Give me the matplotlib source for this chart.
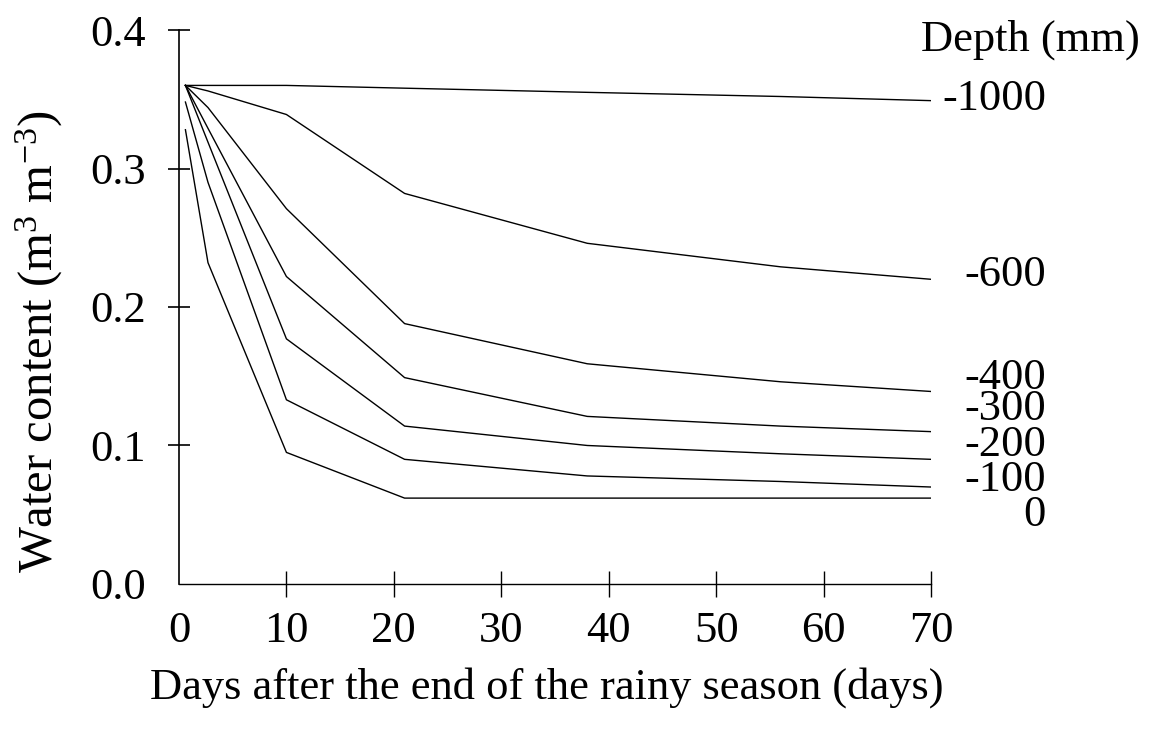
import matplotlib
matplotlib.use("Agg")
import matplotlib.pyplot as plt

plt.rcParams['font.family'] = ['Liberation Serif', 'DejaVu Serif']
plt.rcParams['mathtext.fontset'] = 'custom'
plt.rcParams['mathtext.rm'] = 'Liberation Serif'
plt.rcParams['mathtext.it'] = 'Liberation Serif:italic'

# Data
days = [0.6, 2.7, 10, 21, 38, 56, 70]
depth_labels = ["-1000", "-600", "-400", "-300", "-200", "-100", "0"]
water = {
    "-1000": [0.360, 0.360, 0.360, 0.358, 0.355, 0.352, 0.349],
    "-600": [0.360, 0.356, 0.339, 0.282, 0.246, 0.229, 0.220],
    "-400": [0.360, 0.344, 0.271, 0.188, 0.159, 0.146, 0.139],
    "-300": [0.360, 0.329, 0.222, 0.149, 0.121, 0.114, 0.110],
    "-200": [0.360, 0.319, 0.177, 0.114, 0.100, 0.094, 0.090],
    "-100": [0.348, 0.290, 0.133, 0.090, 0.078, 0.074, 0.070],
    "0": [0.328, 0.232, 0.095, 0.062, 0.062, 0.062, 0.062],
}
label_y = [0.350, 0.223, 0.149, 0.126, 0.100, 0.075, 0.050]

fs = 32

fig = plt.figure(figsize=(11.51, 7.34), dpi=100)
ax = fig.add_axes([0.1555, 0.2044, 0.6534, 0.7547])

for d in depth_labels:
    ax.plot(days, water[d], color="black", linewidth=1.0)

for d, y in zip(depth_labels, label_y):
    ax.text(80.7, y, d, ha="right", va="center", fontsize=fs)

ax.text(1.278, 0.982, "Depth (mm)", transform=ax.transAxes, ha="right",
        va="center", fontsize=fs)

ax.set_xlim(0, 70)
ax.set_ylim(0, 0.4)
ax.set_xticks(range(0, 71, 10))
ax.set_yticks([0.0, 0.1, 0.2, 0.3, 0.4])
ax.set_yticklabels(["0.0", "0.1", "0.2", "0.3", "0.4"])

ax.spines["top"].set_visible(False)
ax.spines["right"].set_visible(False)
ax.spines["left"].set_linewidth(1.2)
ax.spines["bottom"].set_linewidth(1.0)

ax.tick_params(axis="x", direction="inout", length=19, width=1.0,
               labelsize=fs, pad=10)
ax.tick_params(axis="y", direction="inout", length=16, width=1.2,
               labelsize=fs, pad=16)
ax.xaxis.get_major_ticks()[0].tick1line.set_visible(False)
ax.yaxis.get_major_ticks()[0].tick1line.set_visible(False)

ax.set_xlabel("Days after the end of the rainy season (days)", fontsize=fs)
ax.xaxis.set_label_coords(0.489, -0.15)
ax.set_ylabel(r"Water content (m$^3$ m$^{-3}$)", fontsize=35)
ax.yaxis.set_label_coords(-0.152, 0.437)

fig.savefig("out.png", dpi=100)
